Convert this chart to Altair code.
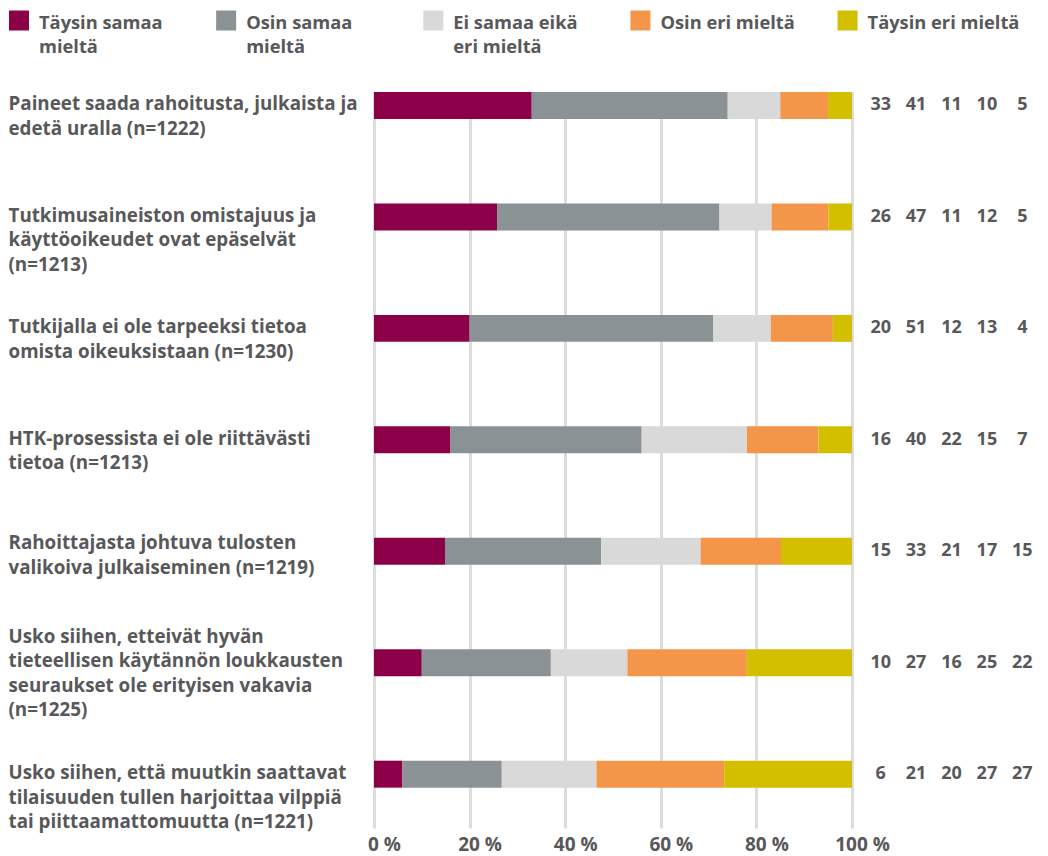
import altair as alt
import pandas as pd

FONT = "Open Sans"
TXT = "#58585A"
FS = 18.8

statements = [
    "Paineet saada rahoitusta, julkaista ja|edetä uralla (n=1222)",
    "Tutkimusaineiston omistajuus ja|käyttöoikeudet ovat epäselvät|(n=1213)",
    "Tutkijalla ei ole tarpeeksi tietoa|omista oikeuksistaan (n=1230)",
    "HTK-prosessista ei ole riittävästi|tietoa (n=1213)",
    "Rahoittajasta johtuva tulosten|valikoiva julkaiseminen (n=1219)",
    "Usko siihen, etteivät hyvän|tieteellisen käytännön loukkausten|seuraukset ole erityisen vakavia|(n=1225)",
    "Usko siihen, että muutkin saattavat|tilaisuuden tullen harjoittaa vilppiä|tai piittaamattomuutta (n=1221)",
]

segments = ["Täysin samaa mieltä", "Osin samaa mieltä", "Ei samaa eikä eri mieltä",
            "Osin eri mieltä", "Täysin eri mieltä"]
legend_line1 = ["Täysin samaa", "Osin samaa", "Ei samaa eikä", "Osin eri mieltä", "Täysin eri mieltä"]
legend_line2 = ["mieltä", "mieltä", "eri mieltä", "", ""]
colors = ["#8C0049", "#8B9295", "#D9D9D9", "#F4964A", "#D2BF00"]

taysin_samaa = [33, 26, 20, 16, 15, 10, 6]
osin_samaa = [41, 47, 51, 40, 33, 27, 21]
ei_samaa_eika_eri = [11, 11, 12, 22, 21, 16, 20]
osin_eri = [10, 12, 13, 15, 17, 25, 27]
taysin_eri = [5, 5, 4, 7, 15, 22, 27]

x_ticks = [0, 0.2, 0.4, 0.6, 0.8, 1.0]

series = [taysin_samaa, osin_samaa, ei_samaa_eika_eri, osin_eri, taysin_eri]
rows = []
for i, st in enumerate(statements):
    for j, seg in enumerate(segments):
        rows.append({"statement": st, "segment": seg, "seg_idx": j, "value": series[j][i]})
df = pd.DataFrame(rows)

color_scale = alt.Scale(domain=segments, range=colors)

y_enc = alt.Y(
    "statement:N", sort=statements,
    scale=alt.Scale(paddingInner=0.758, paddingOuter=0.181, align=0),
    axis=alt.Axis(
        title=None, labelExpr="split(datum.label, '|')", labelAlign="left",
        labelBaseline="alphabetic", labelPadding=0,
        labelOffset={"condition": [
            {"test": "indexof(datum.value, '(n=1225)') >= 0", "value": -20},
            {"test": "indexof(datum.value, '(n=1219)') >= 0", "value": -2},
        ], "value": 5},
        labelLimit=420,
        labelLineHeight=24.5, labelFontSize=FS, labelFont=FONT, labelFontWeight="bold",
        labelColor=TXT, ticks=False, domain=False, grid=False,
    ),
)

bars = alt.Chart(df).mark_bar().encode(
    x=alt.X(
        "value:Q", stack="normalize",
        scale=alt.Scale(domain=[0, 1], range=[366, 844]),
        axis=alt.Axis(
            title=None, values=x_ticks, labelExpr="round(datum.value*100) + ' %'",
            grid=True, gridColor="#DDDDDD", gridWidth=3, ticks=False, domain=False,
            labelFont=FONT, labelFontSize=19, labelFontWeight="bold", labelColor=TXT,
            labelPadding=7, labelOffset=10, labelFlush=False,
        ),
    ),
    y=y_enc,
    color=alt.Color("segment:N", sort=segments, scale=color_scale, legend=None),
    order=alt.Order("seg_idx:Q", sort="ascending"),
)

nums = alt.Chart(df).mark_text(
    font=FONT, fontWeight="bold", fontSize=18, color=TXT, baseline="middle", align="center"
).encode(
    x=alt.X("segment:N", sort=segments,
            scale=alt.Scale(range=[855, 1032], paddingInner=0, paddingOuter=0), axis=None),
    y=y_enc,
    text="value:Q",
)

main = alt.layer(bars, nums).resolve_scale(x="independent").properties(width=1032, height=736)

leg_df = pd.DataFrame({"segment": segments, "line1": legend_line1, "line2": legend_line2})
leg_x = alt.X("segment:N", sort=segments,
              scale=alt.Scale(type="point", padding=0.491, align=0), axis=None)
sq = alt.Chart(leg_df).mark_square(size=400, opacity=1, xOffset=11, yOffset=-12.5).encode(
    x=leg_x,
    color=alt.Color("segment:N", sort=segments, scale=color_scale, legend=None),
)
txt_style = dict(align="left", baseline="alphabetic", xOffset=31, font=FONT,
                 fontWeight="bold", fontSize=18.3, color=TXT)
l1 = alt.Chart(leg_df).mark_text(yOffset=-4, **txt_style).encode(x=leg_x, text="line1:N")
l2 = alt.Chart(leg_df).mark_text(yOffset=19.5, **txt_style).encode(x=leg_x, text="line2:N")
legend = alt.layer(sq, l1, l2).properties(width=1032, height=50)

chart = alt.vconcat(legend, main, spacing=34).properties(padding=0).configure_view(stroke=None)

chart.save("out.html", embed_options={"renderer": "svg", "actions": False})
